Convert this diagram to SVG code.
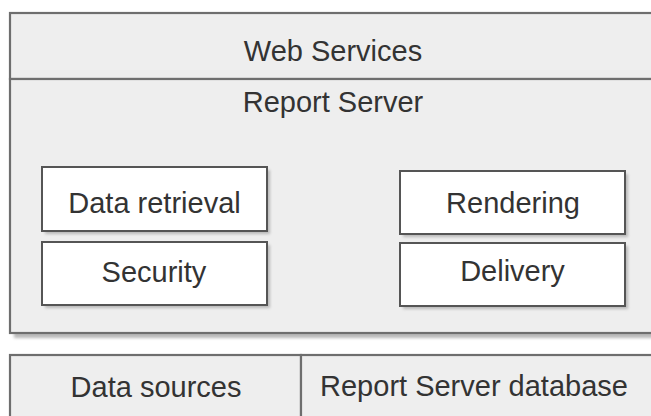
<svg xmlns="http://www.w3.org/2000/svg" width="651" height="416" viewBox="0 0 651 416">
  <defs>
    <filter id="blur" x="-10%" y="-10%" width="120%" height="120%">
      <feGaussianBlur stdDeviation="1.5"/>
    </filter>
  </defs>
  <style>
    .panel { fill: #eeeeee; stroke: #6e6e6e; stroke-width: 2.2; }
    .line { stroke: #5e5e5e; stroke-width: 2.2; fill: none; }
    .box { fill: #ffffff; stroke: #555555; stroke-width: 2; }
    .shadow { fill: #b8b8b8; filter: url(#blur); }
    .label { font-family: "Liberation Sans", Arial, sans-serif; font-size: 29px; fill: #333333; text-anchor: middle; }
  </style>
  <rect x="0" y="0" width="651" height="416" fill="#ffffff"/>

  <!-- main panel shadow -->
  <rect class="shadow" x="14" y="17" width="660" height="321"/>

  <g id="web-services">
    <rect class="panel" x="10" y="13" width="660" height="66"/>
    <text class="label" x="333" y="61">Web Services</text>
  </g>

  <g id="report-server">
    <rect class="panel" x="10" y="79" width="660" height="254"/>
    <text class="label" x="333" y="112">Report Server</text>
  </g>

  <g id="data-retrieval">
    <rect class="shadow" x="45" y="170" width="225" height="64"/>
    <rect class="box" x="42" y="167" width="225" height="64"/>
    <text class="label" x="154.5" y="213">Data retrieval</text>
  </g>

  <g id="security">
    <rect class="shadow" x="45" y="245" width="225" height="63"/>
    <rect class="box" x="42" y="242" width="225" height="63"/>
    <text class="label" x="154" y="282">Security</text>
  </g>

  <g id="rendering">
    <rect class="shadow" x="403" y="174" width="225" height="63"/>
    <rect class="box" x="400" y="171" width="225" height="63"/>
    <text class="label" x="513" y="213">Rendering</text>
  </g>

  <g id="delivery">
    <rect class="shadow" x="403" y="246" width="225" height="63"/>
    <rect class="box" x="400" y="243" width="225" height="63"/>
    <text class="label" x="512.5" y="281">Delivery</text>
  </g>

  <g id="data-sources">
    <rect class="panel" x="10" y="355" width="291" height="80"/>
    <text class="label" x="156" y="397">Data sources</text>
  </g>

  <g id="report-server-database">
    <rect class="panel" x="301" y="355" width="370" height="80"/>
    <text class="label" x="474" y="396">Report Server database</text>
  </g>
</svg>
